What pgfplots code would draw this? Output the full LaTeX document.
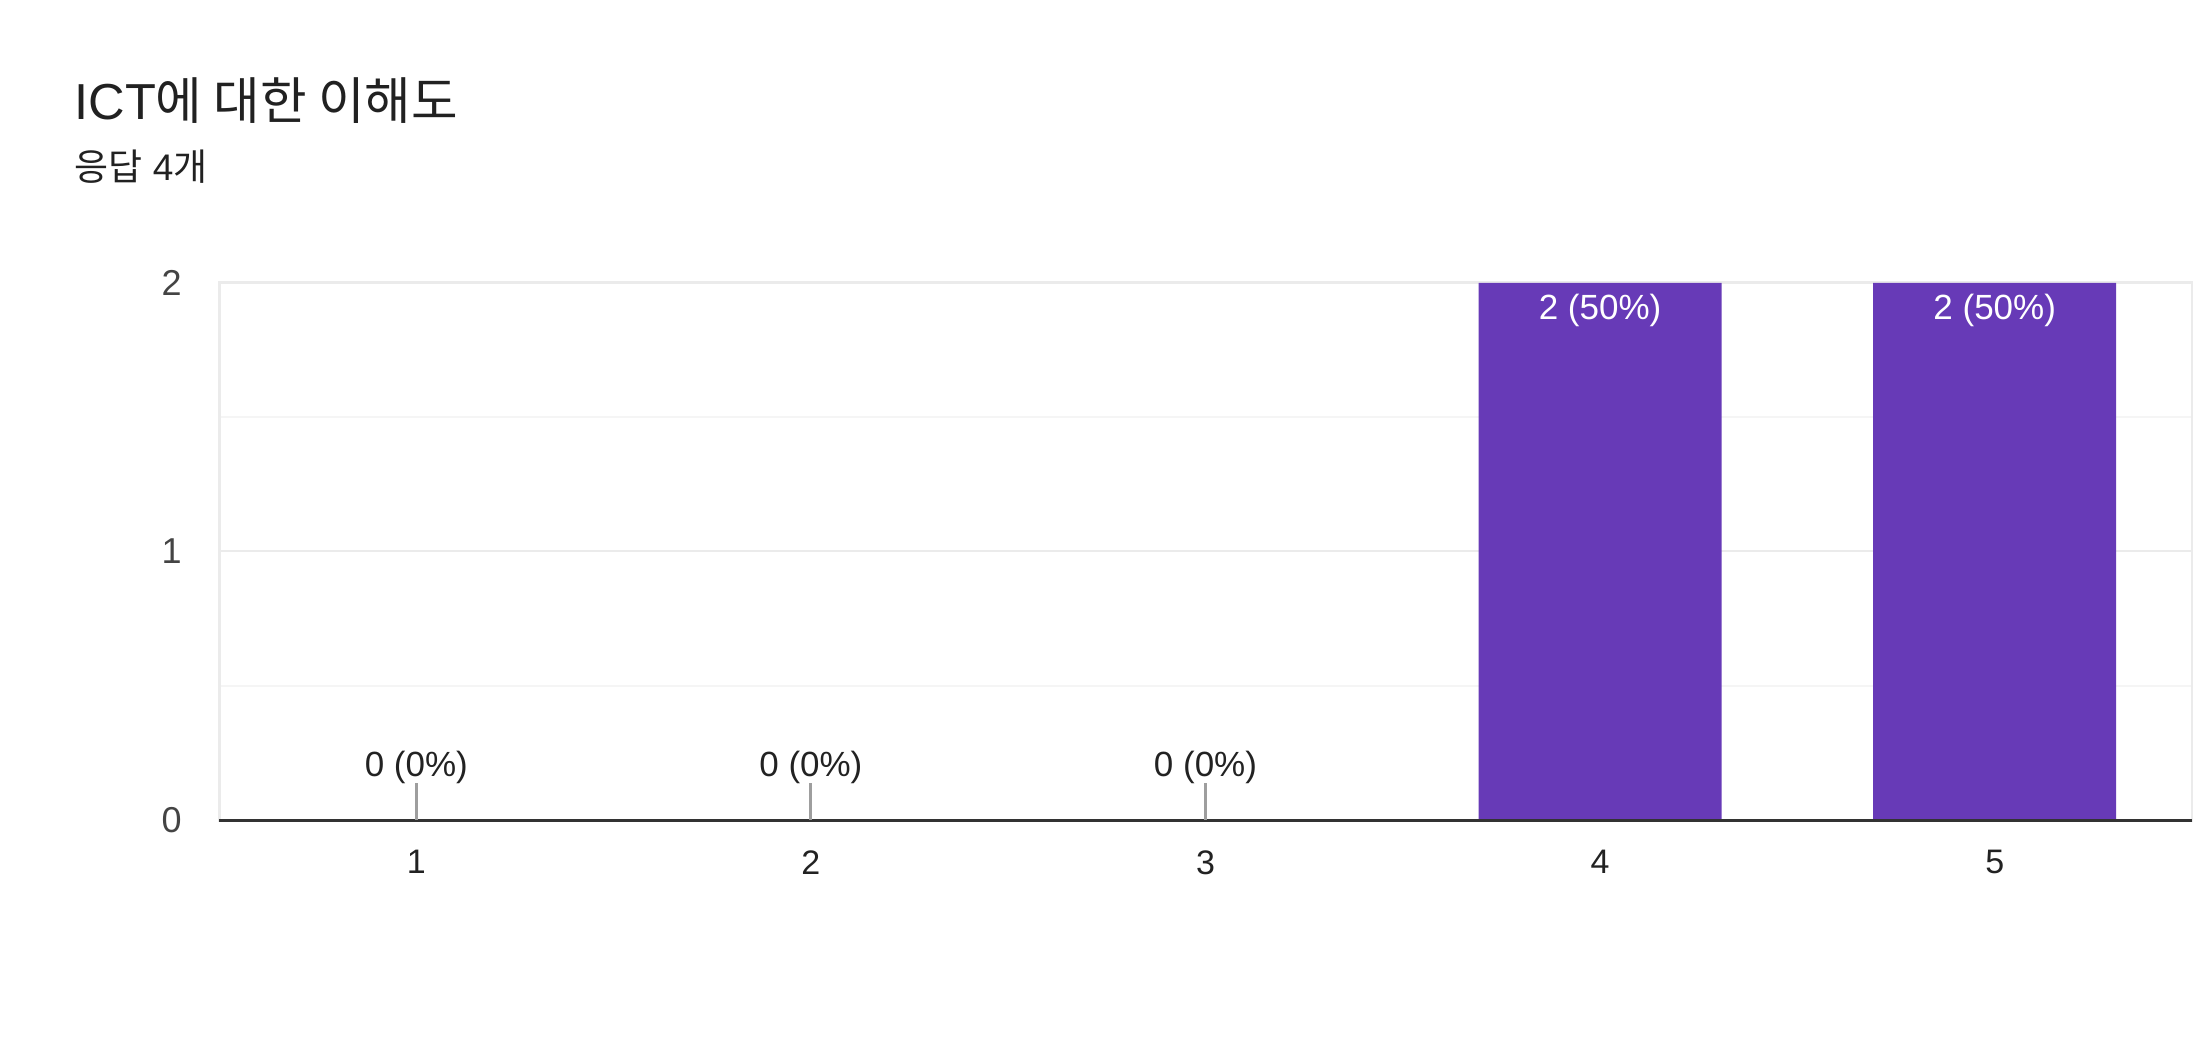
\documentclass[border=0pt]{standalone}
\usepackage{pgfplots}
\pgfplotsset{compat=1.18}
\usepackage{fontspec}
\setmainfont{Liberation Sans}
\newfontfamily\cjk{Noto Sans CJK KR}
\definecolor{barc}{HTML}{673AB7}
\definecolor{titlec}{HTML}{212121}
\definecolor{gridc}{HTML}{EBEBEB}
\definecolor{minorc}{HTML}{F5F5F5}
\definecolor{borderc}{HTML}{EBEBEB}
\definecolor{ytc}{HTML}{444444}
\definecolor{xtc}{HTML}{222222}
\definecolor{basec}{HTML}{333333}
\definecolor{tickc}{HTML}{9E9E9E}
\pgfdeclareplotmark{zerotick}{\pgfpathmoveto{\pgfpoint{0pt}{0pt}}\pgfpathlineto{\pgfpoint{0pt}{18.5pt}}\pgfusepathqstroke}
\begin{document}
\begin{tikzpicture}
\useasboundingbox (0,0) rectangle (1096.5pt,522pt);
\node[anchor=base west, inner sep=0pt, text=titlec, font=\fontsize{25.3}{30}\selectfont] at (37pt,462pt) {ICT{\cjk 에 대한 이해도}};
\node[anchor=base west, inner sep=0pt, text=titlec, font=\fontsize{18.5}{22}\selectfont] at (37pt,431.5pt) {{\cjk 응답} 4{\cjk 개}};
\begin{axis}[
  at={(109.5pt,112pt)}, anchor=south west,
  scale only axis, width=986.5pt, height=268.5pt,
  xmin=0.5, xmax=5.5, ymin=0, ymax=2,
  xtick={1,2,3,4,5}, ytick={0,1,2},
  minor ytick={0.5,1.5},
  ymajorgrids, yminorgrids,
  major grid style={color=gridc, line width=1pt},
  minor grid style={color=minorc, line width=1pt},
  major tick length=0pt, minor tick length=0pt,
  axis line style={draw=borderc, line width=1.5pt},
  /pgf/number format/assume math mode=true,
  yticklabel style={text=ytc, inner sep=0pt, xshift=-18.5pt, anchor=east, font=\fontsize{18}{22}\selectfont},
  xticklabel style={text=xtc, inner sep=0pt, yshift=-15pt, anchor=north, font=\fontsize{17}{21}\selectfont},
  clip=false,
]
\addplot[ybar, bar width=121.5pt, fill=barc, draw=none,
  nodes near coords, point meta=explicit symbolic,
  every node near coord/.append style={anchor=north, inner sep=0pt, yshift=-5.5pt, text=white, font=\fontsize{17.5}{21}\selectfont}]
  coordinates {(4,2) [2 (50\%)] (5,2) [2 (50\%)]};
\addplot[only marks, mark=zerotick, mark options={draw=tickc, line width=1.5pt},
  nodes near coords, point meta=explicit symbolic,
  every node near coord/.append style={anchor=base, inner sep=0pt, yshift=21.5pt, text=xtc, font=\fontsize{17.5}{21}\selectfont}]
  coordinates {(1,0) [0 (0\%)] (2,0) [0 (0\%)] (3,0) [0 (0\%)]};
\draw[color=basec, line width=1.5pt] (axis cs:0.5,0) -- (axis cs:5.5,0);
\end{axis}
\end{tikzpicture}
\end{document}
